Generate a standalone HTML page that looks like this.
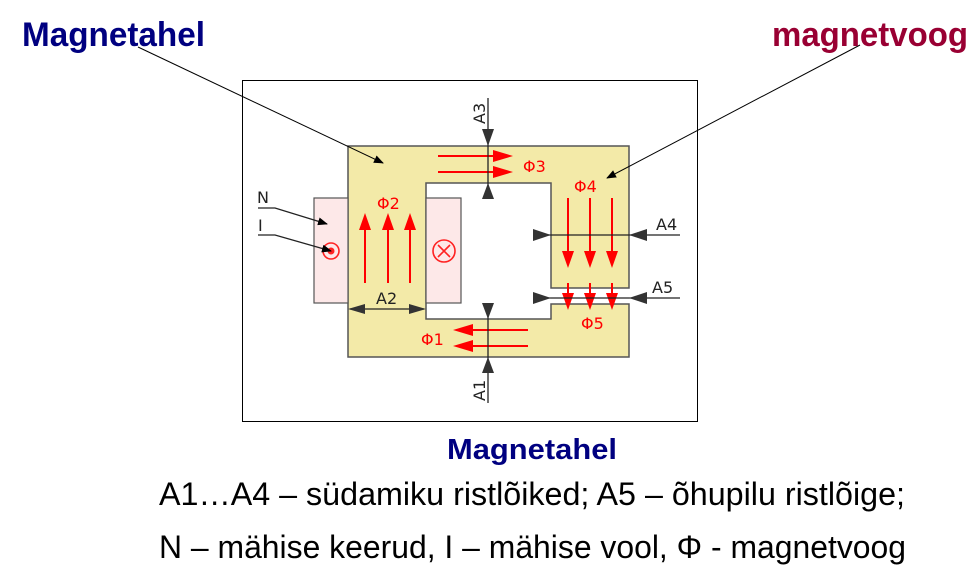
<!DOCTYPE html>
<html><head><meta charset="utf-8"><style>html,body{margin:0;padding:0;background:#fff;}svg{display:block}</style></head>
<body>
<svg width="971" height="568" viewBox="0 0 971 568" xmlns="http://www.w3.org/2000/svg">
<defs>
<marker id="bk" markerWidth="10" markerHeight="8" refX="9" refY="4" orient="auto" markerUnits="userSpaceOnUse"><path d="M0,0 L10,4 L0,8 Z" fill="#000"/></marker>
</defs>
<rect x="242.5" y="80.5" width="455" height="341" fill="#fff" stroke="#000" stroke-width="1"/>
<path d="M348,146 L629,146 L629,288 L551,288 L551,183 L426,183 L426,319 L551,319 L551,304 L629,304 L629,357 L348,357 Z" fill="#f3eaa8" stroke="#555" stroke-width="1.5"/>
<rect x="314" y="198" width="34" height="105" fill="#fde8e8" stroke="#555" stroke-width="1.2"/>
<rect x="426" y="198" width="35" height="105" fill="#fde8e8" stroke="#555" stroke-width="1.2"/>
<circle cx="331" cy="251" r="8" fill="none" stroke="#f22" stroke-width="1.6"/>
<circle cx="331" cy="251" r="3.5" fill="#f22"/>
<circle cx="444" cy="251" r="11" fill="none" stroke="#f22" stroke-width="1.6"/>
<path d="M438,245 L450,257 M450,245 L438,257" stroke="#f22" stroke-width="1.6"/>
<g stroke="#f00" stroke-width="2" fill="#f00">
<line x1="365" y1="283" x2="365" y2="228"/><line x1="388" y1="283" x2="388" y2="228"/><line x1="410" y1="283" x2="410" y2="228"/>
<line x1="438" y1="156" x2="495" y2="156"/><line x1="438" y1="172" x2="495" y2="172"/>
<line x1="568" y1="198" x2="568" y2="253"/><line x1="590" y1="198" x2="590" y2="253"/><line x1="612" y1="198" x2="612" y2="253"/>
<line x1="568" y1="283" x2="568" y2="295"/><line x1="590" y1="283" x2="590" y2="295"/><line x1="612" y1="283" x2="612" y2="295"/>
<line x1="528" y1="330" x2="470" y2="330"/><line x1="528" y1="346" x2="470" y2="346"/>
</g>
<g fill="#f00">
<path d="M365,213 L359,230 L371,230 Z"/><path d="M388,213 L382,230 L394,230 Z"/><path d="M410,213 L404,230 L416,230 Z"/>
<path d="M513,156 L493,150 L493,162 Z"/><path d="M513,172 L493,166 L493,178 Z"/>
<path d="M568,268 L562,251 L574,251 Z"/><path d="M590,268 L584,251 L596,251 Z"/><path d="M612,268 L606,251 L618,251 Z"/>
<path d="M568,310 L562,293 L574,293 Z"/><path d="M590,310 L584,293 L596,293 Z"/><path d="M612,310 L606,293 L618,293 Z"/>
<path d="M453,330 L473,324 L473,336 Z"/><path d="M453,346 L473,340 L473,352 Z"/>
</g>
<g font-family="DejaVu Sans, sans-serif" font-size="16" fill="#f00">
<text x="377" y="209">Φ2</text><text x="523" y="172">Φ3</text><text x="574" y="192">Φ4</text><text x="581" y="329">Φ5</text><text x="421" y="345">Φ1</text>
</g>
<g stroke="#222" stroke-width="1.3" fill="none">
<line x1="488" y1="98" x2="488" y2="198"/>
<line x1="488" y1="303" x2="488" y2="403"/>
<line x1="533" y1="235" x2="680" y2="235"/>
<line x1="533" y1="298" x2="680" y2="298"/>
<line x1="350" y1="309" x2="424" y2="309"/>
<polyline points="258,208 275,208 327,224" marker-end="url(#bk)"/>
<polyline points="258,235 275,235 331,251" marker-end="url(#bk)"/>
<line x1="138" y1="47" x2="383" y2="163" stroke="#000" stroke-width="1" marker-end="url(#bk)"/>
<line x1="860" y1="45" x2="607" y2="178" stroke="#000" stroke-width="1" marker-end="url(#bk)"/>
</g>
<g fill="#333">
<path d="M488,146 L482,129 L494,129 Z"/><path d="M488,183 L482,199 L494,199 Z"/>
<path d="M488,319 L482,303 L494,303 Z"/><path d="M488,357 L482,373 L494,373 Z"/>
<path d="M551,235 L533,229 L533,241 Z"/><path d="M629,235 L647,229 L647,241 Z"/>
<path d="M551,298 L533,292 L533,304 Z"/><path d="M629,298 L647,292 L647,304 Z"/>
<path d="M348,309 L365,304 L365,314 Z"/><path d="M426,309 L409,304 L409,314 Z"/>
</g>
<g font-family="DejaVu Sans, sans-serif" font-size="16" fill="#222">
<text x="376" y="304">A2</text><text x="656" y="230">A4</text><text x="652" y="293">A5</text>
<text x="257" y="203">N</text><text x="258" y="231">I</text>
<text transform="translate(485,124) rotate(-90)">A3</text>
<text transform="translate(485,401) rotate(-90)">A1</text>
</g>
<g font-family="Liberation Sans, sans-serif" font-weight="bold">
<text x="22" y="46" font-size="34" fill="#000080" textLength="183" lengthAdjust="spacingAndGlyphs">Magnetahel</text>
<text x="772" y="46" font-size="34" fill="#990033" textLength="196" lengthAdjust="spacingAndGlyphs">magnetvoog</text>
<text x="447" y="459" font-size="29" fill="#000080" textLength="170" lengthAdjust="spacingAndGlyphs">Magnetahel</text>
</g>
<g font-family="Liberation Sans, sans-serif" font-size="32" fill="#000" xml:space="preserve">
<text x="159" y="505" textLength="746" lengthAdjust="spacingAndGlyphs">A1…A4 –  südamiku ristlõiked; A5 –  õhupilu ristlõige;</text>
<text x="159" y="558" textLength="747" lengthAdjust="spacingAndGlyphs">N –  mähise keerud, I –  mähise vool, Φ - magnetvoog</text>
</g>
</svg>
</body></html>
